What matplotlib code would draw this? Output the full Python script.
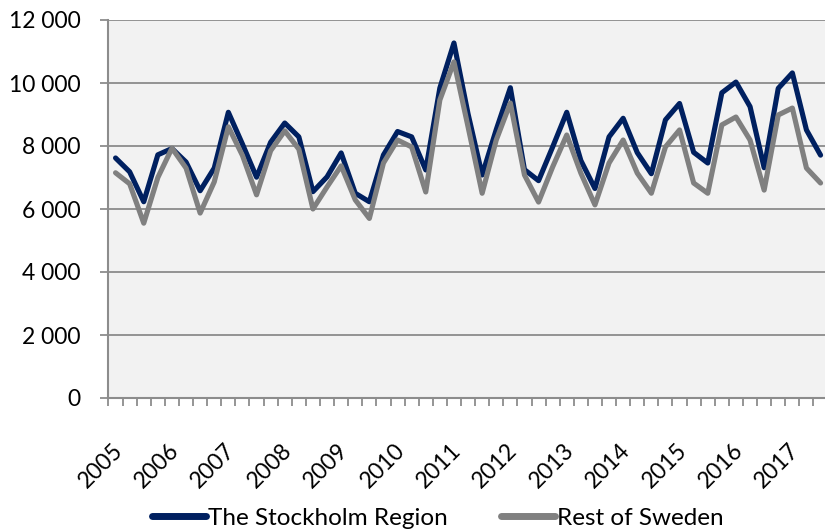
import numpy as np
import matplotlib
matplotlib.use('Agg')
import matplotlib.pyplot as plt
from matplotlib.ticker import FuncFormatter, MultipleLocator, FixedLocator
import matplotlib.transforms as mtrans

# ---- data (quarterly, 2005 Q1 .. 2017 Q3) ----
years = [2005, 2006, 2007, 2008, 2009, 2010, 2011, 2012, 2013, 2014, 2015, 2016, 2017]
stockholm = [7620, 7180, 6230, 7720, 7920, 7490, 6580, 7300, 9070, 8060, 7010, 8120,
             8730, 8290, 6550, 7020, 7780, 6500, 6230, 7715, 8460, 8290, 7240, 9840,
             11270, 9020, 7080, 8520, 9850, 7250, 6900, 7970, 9070, 7540, 6650, 8290,
             8880, 7790, 7120, 8830, 9350, 7800, 7460, 9690, 10030, 9250, 7310, 9830,
             10320, 8510, 7710]
rest = [7150, 6800, 5550, 7000, 7930, 7300, 5870, 6860, 8610, 7700, 6450, 7850,
        8480, 7900, 6000, 6700, 7370, 6290, 5700, 7460, 8190, 7970, 6540, 9460,
        10670, 8610, 6500, 8190, 9365, 7080, 6220, 7335, 8350, 7140, 6130, 7460,
        8190, 7140, 6500, 7970, 8510, 6825, 6500, 8670, 8920, 8190, 6600, 8985,
        9205, 7300, 6825]
series_names = ["The Stockholm Region", "Rest of Sweden"]
colors = ["#002060", "#808080"]

plt.rcParams['font.family'] = ['Lato', 'DejaVu Sans']
FS = 16.5
GRID = '#8C8C8C'

fig = plt.figure(figsize=(8.25, 5.3), dpi=100)
W, H = 825, 530
left_px, top_px, bottom_px = 108.5, 20, 398
ax = fig.add_axes([left_px / W, 1 - bottom_px / H, 1 - left_px / W, (bottom_px - top_px) / H])
ax.set_facecolor('#F2F2F2')

x = np.arange(len(stockholm))
ax.plot(x, stockholm, color=colors[0], lw=3.7, solid_joinstyle='round',
        solid_capstyle='round', label=series_names[0], zorder=3)
ax.plot(x, rest, color=colors[1], lw=3.7, solid_joinstyle='round',
        solid_capstyle='round', label=series_names[1], zorder=4)

px_per_cat = 14.1
ax.set_xlim(-0.5, -0.5 + (W - left_px) / px_per_cat)
ax.set_ylim(0, 12000)

ax.yaxis.set_major_locator(MultipleLocator(2000))
ax.yaxis.set_major_formatter(FuncFormatter(lambda v, p: f"{int(v):,}".replace(",", " ")))
ax.grid(axis='y', color=GRID, lw=1.3)
ax.set_axisbelow(True)

for s in ['top', 'right']:
    ax.spines[s].set_visible(False)
for s in ['left', 'bottom']:
    ax.spines[s].set_color(GRID)
    ax.spines[s].set_linewidth(1.5)

ax.tick_params(axis='y', length=6, width=1.3, color=GRID, labelsize=FS, pad=14,
               labelcolor='#000000')

# year labels at first quarter of each year, boundary tick marks between quarters
ax.xaxis.set_major_locator(FixedLocator([4 * i for i in range(len(years))]))
ax.set_xticklabels([str(y) for y in years])
ax.xaxis.set_minor_locator(FixedLocator(np.arange(-0.5, len(stockholm) + 0.5, 1)))
ax.tick_params(axis='x', which='major', length=0, labelsize=FS, pad=30, labelcolor='#000000')
ax.tick_params(axis='x', which='minor', length=6, width=1.3, color=GRID)
off = mtrans.ScaledTranslation(8 / 72, 0, fig.dpi_scale_trans)
for lab in ax.get_xticklabels():
    lab.set_rotation(45)
    lab.set_ha('right')
    lab.set_va('top')
    lab.set_transform(lab.get_transform() + off)

leg = fig.legend(loc='center', bbox_to_anchor=(0.531, 1 - 518 / H), ncol=2, frameon=False,
                 fontsize=17.5, handlelength=2.2, handletextpad=0.1, columnspacing=2.2)
for ln in leg.get_lines():
    ln.set_linewidth(5)
    ln.set_solid_capstyle('round')

fig.savefig('out.png', dpi=100)
